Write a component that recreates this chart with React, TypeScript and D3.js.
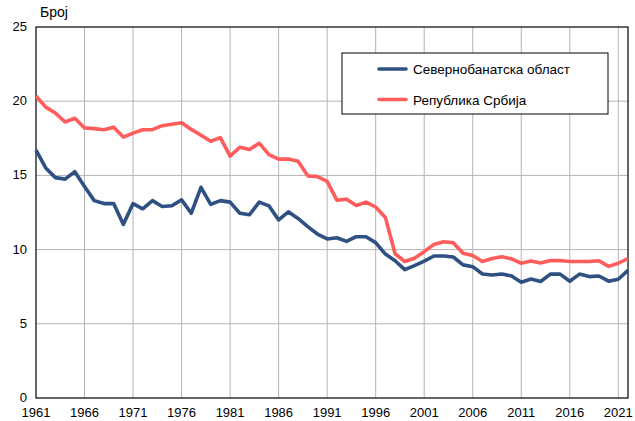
import React from "react";
import * as d3 from "d3";

const years = d3.range(1961, 2023);
const tickYears = [1961, 1966, 1971, 1976, 1981, 1986, 1991, 1996, 2001, 2006, 2011, 2016, 2021];
const yTicks = [0, 5, 10, 15, 20, 25];

// Севернобанатска област
const banat = [
  16.7, 15.5, 14.85, 14.75, 15.25, 14.25, 13.3, 13.1, 13.1, 11.7,
  13.1, 12.75, 13.3, 12.9, 12.95, 13.35, 12.45, 14.2, 13.05, 13.3,
  13.2, 12.45, 12.35, 13.2, 12.95, 12.0, 12.55, 12.1, 11.55, 11.05,
  10.72, 10.8, 10.55, 10.87, 10.87, 10.47, 9.7, 9.25, 8.65, 8.92,
  9.22, 9.57, 9.57, 9.5, 8.97, 8.85, 8.36, 8.29, 8.36, 8.22,
  7.8, 8.02, 7.85, 8.35, 8.35, 7.87, 8.35, 8.18, 8.22, 7.87,
  8.0, 8.6,
];

// Република Србија
const serbia = [
  20.35, 19.6, 19.2, 18.6, 18.85, 18.2, 18.15, 18.08, 18.25, 17.58,
  17.85, 18.08, 18.08, 18.35, 18.45, 18.55, 18.1, 17.7, 17.3, 17.55,
  16.3, 16.9, 16.75, 17.17, 16.4, 16.1, 16.1, 15.95, 14.97, 14.92,
  14.6, 13.33, 13.4, 12.97, 13.2, 12.87, 12.17, 9.72, 9.2, 9.42,
  9.86, 10.35, 10.53, 10.46, 9.75, 9.6, 9.2, 9.4, 9.52, 9.38,
  9.08, 9.23, 9.1, 9.26, 9.26, 9.2, 9.2, 9.2, 9.25, 8.87,
  9.08, 9.4,
];

const seriesNames = ["Севернобанатска област", "Република Србија"];
const colors = ["#2f5083", "#ff5c5c"];

const W = 635;
const H = 421;
const m = { left: 36, right: 7, top: 27, bottom: 23 };

export default function App() {
  const x = d3.scaleLinear().domain([1961, 2022]).range([m.left, W - m.right]);
  const y = d3.scaleLinear().domain([0, 25]).range([H - m.bottom, m.top]);
  const line = d3
    .line<number>()
    .x((_, i) => x(years[i]))
    .y((d) => y(d));

  const font = "'Liberation Sans', Arial, sans-serif";

  return (
    <svg
      width={W}
      height={H}
      style={{ position: "absolute", left: 0, top: 0, fontFamily: font }}
    >
      <rect width={W} height={H} fill="#fff" />
      <text x={40} y={17} fontSize={14} fill="#000">
        Број
      </text>
      {tickYears.slice(1).map((t) => (
        <line key={t} x1={x(t)} x2={x(t)} y1={y(25)} y2={y(0)} stroke="#b4b4b4" strokeWidth={1} />
      ))}
      {yTicks.slice(1, -1).map((t) => (
        <line key={t} x1={x(1961)} x2={x(2022)} y1={y(t)} y2={y(t)} stroke="#b4b4b4" strokeWidth={1} />
      ))}
      <rect
        x={x(1961)}
        y={y(25)}
        width={x(2022) - x(1961)}
        height={y(0) - y(25)}
        fill="none"
        stroke="#000"
        strokeWidth={1.2}
      />
      {yTicks.map((t) => (
        <text key={t} x={27} y={y(t) + 4} fontSize={13} textAnchor="end" fill="#000">
          {t}
        </text>
      ))}
      {tickYears.map((t) => (
        <text key={t} x={x(t)} y={H - 4} fontSize={13} textAnchor="middle" fill="#000">
          {t}
        </text>
      ))}
      {[banat, serbia].map((s, i) => (
        <path
          key={i}
          d={line(s) || ""}
          fill="none"
          stroke={colors[i]}
          strokeWidth={3.6}
          strokeLinejoin="round"
        />
      ))}
      <rect x={342} y={53} width={266} height={61} fill="#fff" stroke="#000" strokeWidth={1} />
      {seriesNames.map((n, i) => (
        <g key={n} transform={`translate(0,${69 + i * 30.5})`}>
          <line x1={379} x2={406} y1={0} y2={0} stroke={colors[i]} strokeWidth={3.6} strokeLinecap="round" />
          <text x={413} y={5} fontSize={13.5} fill="#000">
            {n}
          </text>
        </g>
      ))}
    </svg>
  );
}
